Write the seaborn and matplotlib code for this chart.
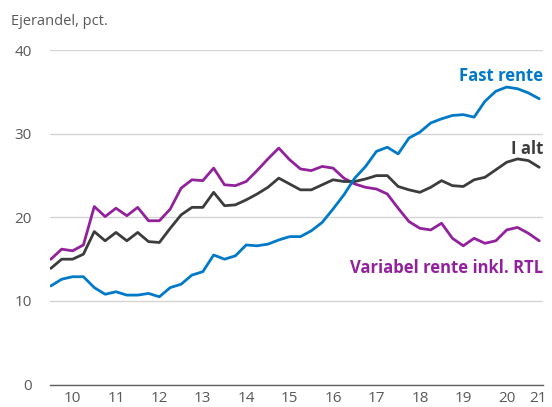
import numpy as np
import pandas as pd
import matplotlib.pyplot as plt
import seaborn as sns

# quarterly data, 2010K1 - 2021K2
quarters = pd.period_range('2010Q1', '2021Q2', freq='Q')

fast = [11.8, 12.6, 12.9, 12.9, 11.6, 10.8, 11.1, 10.7, 10.7, 10.9, 10.5, 11.6,
        12.0, 13.1, 13.5, 15.5, 15.0, 15.4, 16.7, 16.6, 16.8, 17.3, 17.7, 17.7,
        18.4, 19.4, 21.0, 22.7, 24.7, 26.1, 27.9, 28.4, 27.6, 29.5, 30.2, 31.3,
        31.8, 32.2, 32.3, 32.0, 33.9, 35.1, 35.6, 35.4, 34.9, 34.2]
i_alt = [13.9, 15.0, 15.0, 15.6, 18.3, 17.2, 18.2, 17.2, 18.2, 17.1, 17.0, 18.7,
         20.3, 21.2, 21.2, 23.0, 21.4, 21.5, 22.1, 22.8, 23.6, 24.7, 24.0, 23.3,
         23.3, 23.9, 24.5, 24.3, 24.3, 24.6, 25.0, 25.0, 23.7, 23.3, 23.0, 23.6,
         24.4, 23.8, 23.7, 24.5, 24.8, 25.7, 26.6, 27.0, 26.8, 26.0]
variabel = [15.0, 16.2, 16.0, 16.7, 21.3, 20.1, 21.1, 20.2, 21.2, 19.6, 19.6, 21.0,
            23.5, 24.5, 24.4, 25.9, 23.9, 23.8, 24.3, 25.6, 27.0, 28.3, 26.9, 25.8,
            25.6, 26.1, 25.9, 24.7, 24.0, 23.6, 23.4, 22.8, 21.1, 19.5, 18.7, 18.5,
            19.3, 17.5, 16.6, 17.5, 16.9, 17.2, 18.5, 18.8, 18.1, 17.2]

series_names = ['Variabel rente inkl. RTL', 'I alt', 'Fast rente']
colors = ['#92229c', '#3c3c3c', '#0079c8']
year_labels = ['10', '11', '12', '13', '14', '15', '16', '17', '18', '19', '20', '21']

# decimal year for each quarter
t = quarters.year + (quarters.quarter - 1) / 4

df = pd.DataFrame({'t': t, series_names[0]: variabel,
                   series_names[1]: i_alt, series_names[2]: fast})
long = df.melt(id_vars='t', var_name='serie', value_name='andel')

sns.set_style('white')
plt.rcParams['font.family'] = ['Open Sans', 'DejaVu Sans']

fig = plt.figure(figsize=(5.52, 4.07), dpi=100)
ax = fig.add_axes([50 / 552, 22.5 / 407, 492.7 / 552, 334.2 / 407])

sns.lineplot(data=long, x='t', y='andel', hue='serie', hue_order=series_names,
             palette=colors, linewidth=2.0, legend=False, ax=ax)

ax.set_ylim(0, 40)
ax.set_xlim(2009.98, 2021.33)
ax.set_yticks([0, 10, 20, 30, 40])
ax.yaxis.grid(True, color='#d4d4d4', linewidth=1.0)
ax.set_axisbelow(True)

years = np.arange(2010, 2022)
ax.set_xticks(years)
ax.set_xticklabels([])
ax.set_xticks(list(years[:-1] + 0.5) + [2021.22], minor=True)
ax.set_xticklabels(year_labels, minor=True)
ax.tick_params(axis='x', which='major', direction='in', length=4, width=1, color='#606060')
ax.tick_params(axis='x', which='minor', length=0, pad=5, labelsize=11, labelcolor='#595959')
ax.tick_params(axis='y', length=0, pad=13, labelsize=11, labelcolor='#595959')

for s in ['top', 'right', 'left']:
    ax.spines[s].set_visible(False)
ax.spines['bottom'].set_color('#606060')
ax.spines['bottom'].set_linewidth(1.0)

ax.set_xlabel('')
ax.set_ylabel('')

# series labels
ax.text(2021.34, 36.3, 'Fast rente', color=colors[2], fontsize=12,
        fontweight='bold', ha='right', va='baseline')
ax.text(2021.34, 27.6, 'I alt', color=colors[1], fontsize=12,
        fontweight='bold', ha='right', va='baseline')
ax.text(2021.34, 13.3, 'Variabel rente inkl. RTL', color=colors[0], fontsize=12,
        fontweight='bold', ha='right', va='baseline')

fig.text(11 / 552, 1 - 25 / 407, 'Ejerandel, pct.', fontsize=10.5,
         color='#595959', ha='left', va='baseline')

fig.savefig('out.png', dpi=100)
